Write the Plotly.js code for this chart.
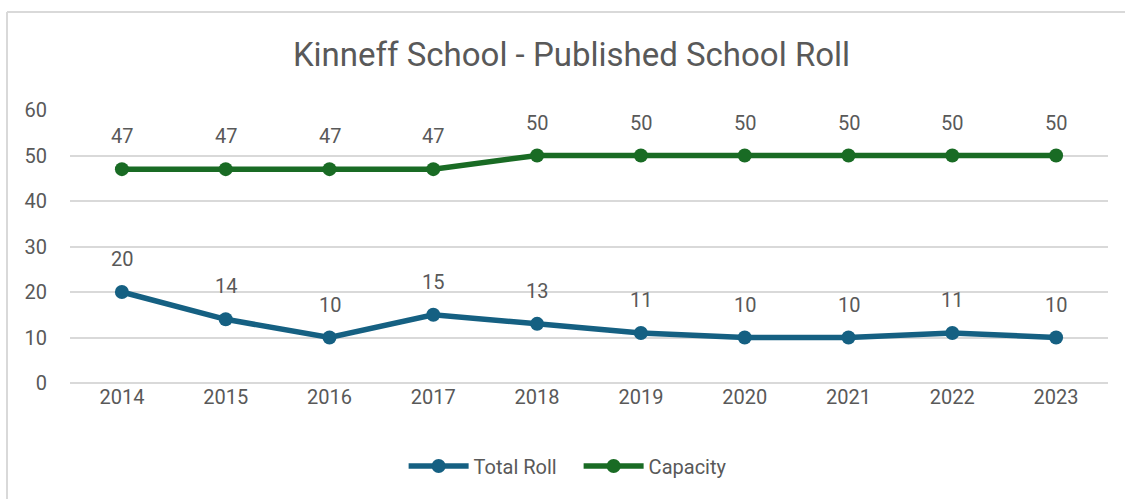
<!DOCTYPE html>
<html>
<head>
<meta charset="utf-8">
<script src="https://cdn.plot.ly/plotly-3.0.1.min.js"></script>
<style>html,body{margin:0;padding:0;background:#fff;}#chart{width:1125px;height:499px;}</style>
</head>
<body>
<div id="chart"></div>
<script>
const years = ['2014','2015','2016','2017','2018','2019','2020','2021','2022','2023'];
const totalRoll = [20,14,10,15,13,11,10,10,11,10];
const capacity = [47,47,47,47,50,50,50,50,50,50];

const FONT = 'Roboto, "Open Sans", sans-serif';
const GREY = '#595959';

function series(name, y, color) {
  return {
    x: years, y: y, name: name, type: 'scatter', mode: 'lines+markers',
    line: {color: color, width: 5.5},
    marker: {color: color, size: 14},
    cliponaxis: false
  };
}

function labels(y) {
  return y.map((v, i) => ({
    x: i, y: v, xref: 'x', yref: 'y', text: String(v),
    showarrow: false, yshift: 33, font: {family: FONT, size: 20, color: GREY}
  }));
}

const data = [series('Total Roll', totalRoll, '#156082'), series('Capacity', capacity, '#196B24')];

const layout = {
  width: 1125, height: 499,
  margin: {l: 70, r: 17, t: 110, b: 116},
  paper_bgcolor: '#fff', plot_bgcolor: '#fff',
  title: {text: 'Kinneff School - Published School Roll', x: 0.508, xanchor: 'center', y: 0.89, yanchor: 'middle',
    font: {family: FONT, size: 33, color: GREY}},
  xaxis: {type: 'category', range: [-0.5, 9.5], showgrid: false, zeroline: false, showline: false,
    ticks: '', tickfont: {family: FONT, size: 20, color: GREY}, fixedrange: true},
  yaxis: {range: [0, 60], dtick: 10, showgrid: true, gridcolor: '#d9d9d9', gridwidth: 2,
    zeroline: true, zerolinecolor: '#d9d9d9', zerolinewidth: 2, ticks: '', ticklabelstandoff: 22,
    tickfont: {family: FONT, size: 20, color: GREY}, fixedrange: true},
  showlegend: true,
  legend: {orientation: 'h', x: 0.49, xanchor: 'center', y: -0.304, yanchor: 'middle',
    font: {family: FONT, size: 20, color: GREY}, itemwidth: 60, entrywidth: 100, entrywidthmode: 'pixels'},
  annotations: labels(totalRoll).concat(labels(capacity)),
  shapes: [
    {type: 'line', xref: 'paper', yref: 'paper', x0: (7-70)/1038, x1: (1125-70)/1038, y0: (383-12)/273, y1: (383-12)/273,
      line: {color: '#d9d9d9', width: 2}},
    {type: 'line', xref: 'paper', yref: 'paper', x0: (7-70)/1038, x1: (7-70)/1038, y0: (383-12)/273, y1: (383-510)/273,
      line: {color: '#d9d9d9', width: 2}}
  ]
};

Plotly.newPlot('chart', data, layout, {displayModeBar: false, staticPlot: true});
</script>
</body>
</html>
